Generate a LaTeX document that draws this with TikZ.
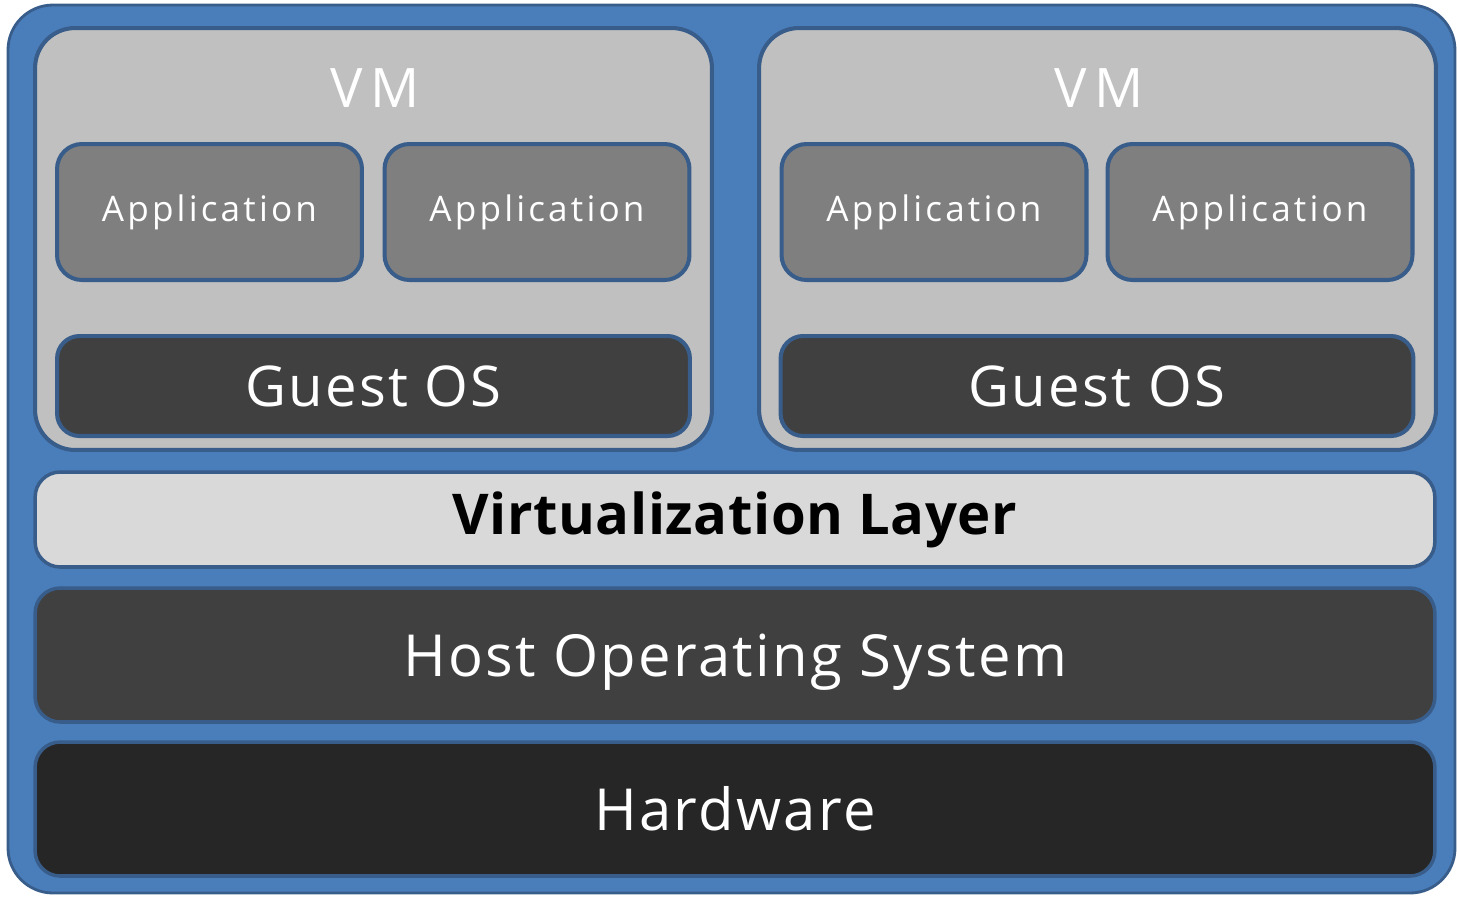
\documentclass[tikz,border=0pt]{standalone}
\usepackage{fontspec}
\setmainfont[LetterSpace=4]{Open Sans}
\newfontfamily\appfont[LetterSpace=9]{Open Sans}
\newfontfamily\vmfont[LetterSpace=14]{Open Sans}
\newfontfamily\virtfont[LetterSpace=1]{Open Sans}
\usetikzlibrary{positioning}
\definecolor{boxblue}{HTML}{4A7EBB}
\definecolor{edgeblue}{HTML}{385D8A}
\definecolor{vmgrey}{HTML}{C0C0C0}
\definecolor{appgrey}{HTML}{7F7F7F}
\definecolor{osgrey}{HTML}{404040}
\definecolor{virtgrey}{HTML}{D9D9D9}
\definecolor{hwgrey}{HTML}{262626}
\tikzset{
    x=0.02cm,y=-0.02cm,
    frame/.style ={draw=edgeblue, fill=boxblue, line width=1.6pt, rounded corners=0.9cm},
    vm/.style ={draw=edgeblue, fill=vmgrey, line width=2.3pt, rounded corners=0.8cm,
                minimum width=13.54cm, minimum height=8.44cm},
    app/.style ={draw=edgeblue, fill=appgrey, line width=2.3pt, rounded corners=0.5cm,
                 minimum width=6.1cm, minimum height=2.72cm, text=white,
                 font=\appfont\fontsize{20}{24}\selectfont},
    guest/.style ={draw=edgeblue, fill=osgrey, line width=2.3pt, rounded corners=0.45cm,
                   minimum width=12.66cm, minimum height=2cm, text=white,
                   font=\fontsize{32}{38}\selectfont},
    layer/.style ={draw=edgeblue, line width=2pt, rounded corners=0.5cm,
                   minimum width=28cm, text=white, font=\fontsize{33}{40}\selectfont},
    vmlabel/.style ={text=white, font=\vmfont\fontsize{31}{36}\selectfont}
}
\begin{document}
\begin{tikzpicture}
    \useasboundingbox (0,0) rectangle (1457,897);
    \draw[frame] (8,5) rectangle (1455,893);

    % the two virtual machines
    \node[vm] (vm1) at (373.5,239) {};
    \node[vm] (vm2) at (1097.5,239) {};
    \node[vmlabel] (vm1label) at (375,88) {VM};
    \node[vmlabel] (vm2label) at (1099,88) {VM};

    \node[app] (app1) at (209.5,212) {Application};
    \node[app] (app2) at (537,212) {Application};
    \node[app] (app3) at (934,212) {Application};
    \node[app] (app4) at (1260,212) {Application};

    \node[guest] (guest1) at (373.5,386) {Guest OS};
    \node[guest] (guest2) at (1097,386) {Guest OS};

    % layers below
    \node[layer, fill=virtgrey, text=black, font=\virtfont\fontsize{32}{40}\selectfont\bfseries,
          minimum height=1.9cm] (virt) at (735,519.5) {Virtualization Layer};
    \node[layer, fill=osgrey, minimum height=2.68cm, text depth=0pt] (host) at (735,655) {Host Operating System};
    \node[layer, fill=hwgrey, minimum height=2.68cm] (hw) at (735,809) {Hardware};
\end{tikzpicture}
\end{document}
